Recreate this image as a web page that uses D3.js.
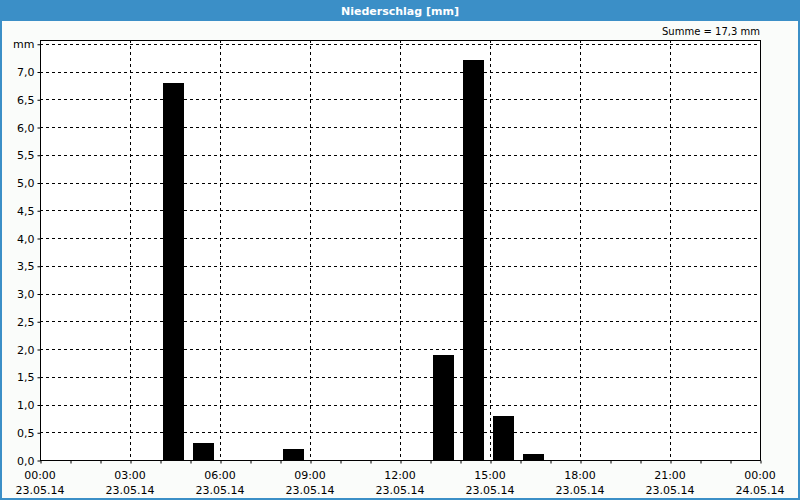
<!DOCTYPE html>
<html>
<head>
<meta charset="utf-8">
<script src="https://cdn.jsdelivr.net/npm/d3@7"></script>
<style>
    body { margin: 0; padding: 0; background: #fff; }
    text { font-family: "DejaVu Sans", Verdana, sans-serif; }
</style>
</head>
<body>
<div id="chart"></div>
<script>
// hourly precipitation, hour index = start of interval (23.05.14)
const hours = [4, 5, 8, 13, 14, 15, 16];
const values = [6.8, 0.3, 0.2, 1.9, 7.2, 0.8, 0.1];
const yTicks = [0, 0.5, 1, 1.5, 2, 2.5, 3, 3.5, 4, 4.5, 5, 5.5, 6, 6.5, 7];
const xTickHours = [0, 3, 6, 9, 12, 15, 18, 21, 24];
const xTickTimes = ["00:00", "03:00", "06:00", "09:00", "12:00", "15:00", "18:00", "21:00", "00:00"];
const xTickDates = ["23.05.14", "23.05.14", "23.05.14", "23.05.14", "23.05.14", "23.05.14", "23.05.14", "23.05.14", "24.05.14"];
const title = "Niederschlag [mm]";
const sumLabel = "Summe = 17,3 mm";

function draw() {
    const w = 800;
    const h = 500;
    const left = 40, right = 760, top = 40, bottom = 460;

    const svg = d3.select("#chart")
        .append("svg")
        .attr("width", w)
        .attr("height", h);

    // frame + title bar
    svg.append("rect")
        .attr("x", 0).attr("y", 0).attr("width", w).attr("height", h)
        .attr("fill", "#3b8fc7");
    svg.append("rect")
        .attr("x", 2).attr("y", 21).attr("width", w - 4).attr("height", h - 23)
        .attr("fill", "#fafcfa");
    svg.append("text")
        .attr("x", w / 2).attr("y", 15)
        .attr("text-anchor", "middle")
        .attr("fill", "#fff")
        .attr("font-size", "11px")
        .attr("font-weight", "bold")
        .text(title);

    const xScale = d3.scaleLinear().domain([0, 24]).range([left, right]);
    const yScale = d3.scaleLinear().domain([0, 7.5]).range([bottom, bottom - 7.5 * 55.5]);

    const plot = svg.append("g");
    plot.append("rect")
        .attr("x", left).attr("y", top)
        .attr("width", right - left).attr("height", bottom - top)
        .attr("fill", "#fff");

    // horizontal grid
    plot.selectAll("line.hgrid")
        .data(yTicks.slice(1).concat([7.5]))
        .enter()
        .append("line")
        .attr("class", "hgrid")
        .attr("x1", left).attr("x2", right)
        .attr("y1", function (d) { return Math.round(yScale(d)) + 0.5; })
        .attr("y2", function (d) { return Math.round(yScale(d)) + 0.5; })
        .attr("stroke", "#000")
        .attr("stroke-dasharray", "3,3");

    // vertical grid
    plot.selectAll("line.vgrid")
        .data(xTickHours.slice(1, -1))
        .enter()
        .append("line")
        .attr("class", "vgrid")
        .attr("x1", function (d) { return xScale(d) + 0.5; })
        .attr("x2", function (d) { return xScale(d) + 0.5; })
        .attr("y1", top).attr("y2", bottom)
        .attr("stroke", "#000")
        .attr("stroke-dasharray", "3,3");

    // bars
    plot.selectAll("rect.bar")
        .data(values)
        .enter()
        .append("rect")
        .attr("class", "bar")
        .attr("x", function (d, i) { return xScale(hours[i]) + 3; })
        .attr("width", xScale(1) - xScale(0) - 9)
        .attr("y", function (d) { return Math.round(yScale(d)); })
        .attr("height", function (d) { return bottom - Math.round(yScale(d)); })
        .attr("fill", "#000");

    // plot border
    plot.append("rect")
        .attr("x", left + 0.5).attr("y", top + 0.5)
        .attr("width", right - left).attr("height", bottom - top)
        .attr("fill", "none")
        .attr("stroke", "#000");

    // x axis
    const xAxis = d3.axisBottom(xScale)
        .tickValues(d3.range(0, 25))
        .tickSize(3)
        .tickFormat("");
    svg.append("g")
        .attr("transform", "translate(0.5," + (bottom + 0.5) + ")")
        .call(xAxis)
        .call(function (g) { g.select(".domain").remove(); });

    const xLabels = svg.append("g")
        .attr("font-size", "11px")
        .attr("fill", "#000");
    xLabels.selectAll("text.time")
        .data(xTickHours)
        .enter()
        .append("text")
        .attr("class", "time")
        .attr("x", function (d) { return xScale(d); })
        .attr("y", 479)
        .attr("text-anchor", "middle")
        .text(function (d, i) { return xTickTimes[i]; });
    xLabels.selectAll("text.date")
        .data(xTickHours)
        .enter()
        .append("text")
        .attr("class", "date")
        .attr("x", function (d) { return xScale(d); })
        .attr("y", 494)
        .attr("text-anchor", "middle")
        .text(function (d, i) { return xTickDates[i]; });

    // y axis
    const yAxis = d3.axisLeft(yScale)
        .tickValues(yTicks.concat([7.5]))
        .tickSize(3)
        .tickPadding(3)
        .tickFormat(function (d) { return d === 7.5 ? "mm" : d3.format(".1f")(d).replace(".", ","); });
    svg.append("g")
        .attr("transform", "translate(" + (left + 0.5) + ",0.5)")
        .call(yAxis)
        .call(function (g) { g.select(".domain").remove(); })
        .call(function (g) {
            g.selectAll("text")
                .attr("font-size", "11px")
                .attr("font-family", "DejaVu Sans, sans-serif")
                .attr("fill", "#000");
        });

    svg.append("text")
        .attr("x", right)
        .attr("y", 35)
        .attr("text-anchor", "end")
        .attr("font-size", "10px")
        .attr("fill", "#000")
        .text(sumLabel);
}

draw();
</script>
</body>
</html>
